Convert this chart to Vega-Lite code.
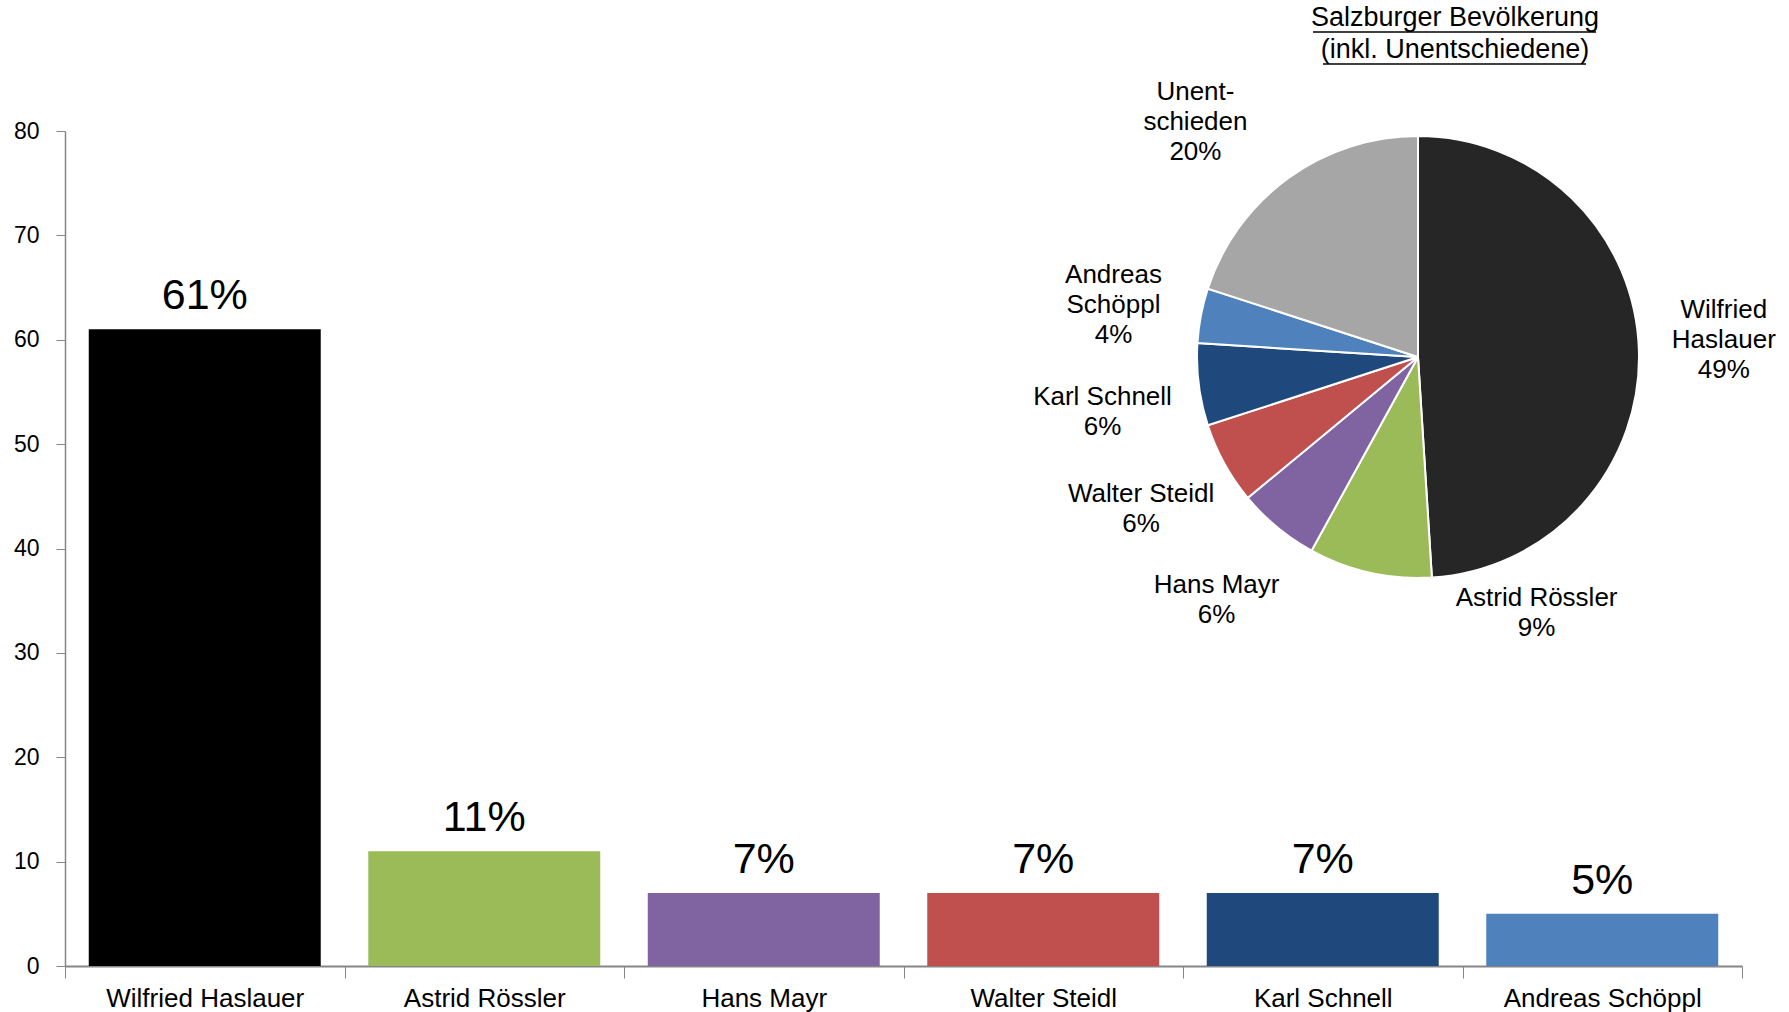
{
  "$schema": "https://vega.github.io/schema/vega-lite/v6.json",
  "autosize": "none",
  "width": 1677,
  "height": 835,
  "padding": {"left": 65, "top": 131, "right": 47, "bottom": 46},
  "background": "white",
  "config": {"view": {"stroke": null}, "font": "Liberation Sans"},
  "datasets": {
    "bars": [
      {"name": "Wilfried Haslauer", "value": 61, "lbl": "61%"},
      {"name": "Astrid Rössler", "value": 11, "lbl": "11%"},
      {"name": "Hans Mayr", "value": 7, "lbl": "7%"},
      {"name": "Walter Steidl", "value": 7, "lbl": "7%"},
      {"name": "Karl Schnell", "value": 7, "lbl": "7%"},
      {"name": "Andreas Schöppl", "value": 5, "lbl": "5%"}
    ],
    "pie": [
      {"name": "Wilfried Haslauer", "share": 49, "ord": 1, "label": "Wilfried\nHaslauer\n49%"},
      {"name": "Astrid Rössler", "share": 9, "ord": 2, "label": "Astrid Rössler\n9%"},
      {"name": "Hans Mayr", "share": 6, "ord": 3, "label": "Hans  Mayr\n6%"},
      {"name": "Walter Steidl", "share": 6, "ord": 4, "label": "Walter Steidl\n6%"},
      {"name": "Karl Schnell", "share": 6, "ord": 5, "label": "Karl Schnell\n6%"},
      {"name": "Andreas Schöppl", "share": 4, "ord": 6, "label": "Andreas\nSchöppl\n4%"},
      {"name": "Unentschieden", "share": 20, "ord": 7, "label": "Unent-\nschieden\n20%"}
    ],
    "title": [{"t": "Salzburger Bevölkerung\n(inkl. Unentschiedene)"}],
    "one": [{}]
  },
  "layer": [
    {
      "data": {"name": "bars"},
      "mark": {"type": "bar", "width": {"band": 0.83}},
      "encoding": {
        "x": {
          "field": "name", "type": "nominal", "sort": null,
          "scale": {"paddingInner": 0, "paddingOuter": 0},
          "axis": {
            "title": null, "labelAngle": 0, "labelFontSize": 26, "labelColor": "#000000", "labelLimit": 0,
            "labelFont": "Liberation Sans", "domainColor": "#868686", "domainWidth": 2,
            "tickColor": "#868686", "tickSize": 12, "tickBand": "extent", "labelPadding": 7
          }
        },
        "y": {
          "field": "value", "type": "quantitative",
          "scale": {"domain": [0, 80], "nice": false},
          "axis": {
            "title": null, "values": [0, 10, 20, 30, 40, 50, 60, 70, 80], "grid": false,
            "labelFontSize": 23, "labelColor": "#000000", "labelFont": "Liberation Sans",
            "domainColor": "#868686", "domainWidth": 1.5, "tickColor": "#868686", "tickSize": 9, "labelPadding": 17
          }
        },
        "color": {
          "field": "name", "type": "nominal", "legend": null,
          "scale": {
            "domain": ["Wilfried Haslauer", "Astrid Rössler", "Hans Mayr", "Walter Steidl", "Karl Schnell", "Andreas Schöppl"],
            "range": ["#000000", "#9BBB59", "#8064A2", "#C0504D", "#1F497D", "#4F81BD"]
          }
        }
      }
    },
    {
      "data": {"name": "bars"},
      "mark": {"type": "text", "fontSize": 43, "baseline": "bottom", "dy": -11, "color": "#000000", "font": "Liberation Sans"},
      "encoding": {
        "x": {"field": "name", "type": "nominal", "sort": null},
        "y": {"field": "value", "type": "quantitative"},
        "text": {"field": "lbl"}
      }
    },
    {
      "data": {"name": "pie"},
      "mark": {"type": "arc", "x": 1353, "y": 226, "radius": 221, "stroke": "#ffffff", "strokeWidth": 2},
      "encoding": {
        "theta": {"field": "share", "type": "quantitative", "stack": true},
        "order": {"field": "ord"},
        "color": {
          "field": "name", "type": "nominal", "legend": null,
          "scale": {
            "domain": ["Wilfried Haslauer", "Astrid Rössler", "Hans Mayr", "Walter Steidl", "Karl Schnell", "Andreas Schöppl", "Unentschieden"],
            "range": ["#262626", "#9BBB59", "#8064A2", "#C0504D", "#1F497D", "#4F81BD", "#A6A6A6"]
          }
        }
      }
    },
    {
      "data": {"name": "pie"},
      "mark": {"type": "text", "x": 1353, "y": 226, "radius": 306, "dy": -37, "fontSize": 26, "lineBreak": "\n", "lineHeight": 30, "align": "center", "baseline": "middle", "color": "#000000", "font": "Liberation Sans"},
      "encoding": {
        "theta": {"field": "share", "type": "quantitative", "stack": true},
        "order": {"field": "ord"},
        "text": {"condition": {"test": "datum.name === 'Wilfried Haslauer'", "field": "label"}, "value": ""}
      }
    },
    {
      "data": {"name": "pie"},
      "mark": {"type": "text", "x": 1353, "y": 226, "radius": 310, "dy": -24, "fontSize": 26, "lineBreak": "\n", "lineHeight": 30, "align": "center", "baseline": "middle", "color": "#000000", "font": "Liberation Sans"},
      "encoding": {
        "theta": {"field": "share", "type": "quantitative", "stack": true},
        "order": {"field": "ord"},
        "text": {"condition": {"test": "datum.name === 'Andreas Schöppl'", "field": "label"}, "value": ""}
      }
    },
    {
      "data": {"name": "pie"},
      "mark": {"type": "text", "x": 1353, "y": 226, "radius": 324, "thetaOffset": -0.129, "dy": -30, "fontSize": 26, "lineBreak": "\n", "lineHeight": 30, "align": "center", "baseline": "middle", "color": "#000000", "font": "Liberation Sans"},
      "encoding": {
        "theta": {"field": "share", "type": "quantitative", "stack": true},
        "order": {"field": "ord"},
        "text": {"condition": {"test": "datum.name === 'Unentschieden'", "field": "label"}, "value": ""}
      }
    },
    {
      "data": {"name": "pie"},
      "mark": {"type": "text", "x": 1353, "y": 226, "radius": 316, "dy": -15, "fontSize": 26, "lineBreak": "\n", "lineHeight": 30, "align": "center", "baseline": "middle", "color": "#000000", "font": "Liberation Sans"},
      "encoding": {
        "theta": {"field": "share", "type": "quantitative", "stack": true},
        "order": {"field": "ord"},
        "text": {"condition": {"test": "datum.name === 'Hans Mayr' || datum.name === 'Walter Steidl'", "field": "label"}, "value": ""}
      }
    },
    {
      "data": {"name": "pie"},
      "mark": {"type": "text", "x": 1353, "y": 226, "radius": 318, "dy": 0, "fontSize": 26, "lineBreak": "\n", "lineHeight": 30, "align": "center", "baseline": "middle", "color": "#000000", "font": "Liberation Sans"},
      "encoding": {
        "theta": {"field": "share", "type": "quantitative", "stack": true},
        "order": {"field": "ord"},
        "text": {"condition": {"test": "datum.name === 'Karl Schnell'", "field": "label"}, "value": ""}
      }
    },
    {
      "data": {"name": "pie"},
      "mark": {"type": "text", "x": 1353, "y": 226, "radius": 282, "thetaOffset": -0.654, "dy": -15, "fontSize": 26, "lineBreak": "\n", "lineHeight": 30, "align": "center", "baseline": "middle", "color": "#000000", "font": "Liberation Sans"},
      "encoding": {
        "theta": {"field": "share", "type": "quantitative", "stack": true},
        "order": {"field": "ord"},
        "text": {"condition": {"test": "datum.name === 'Astrid Rössler'", "field": "label"}, "value": ""}
      }
    },
    {
      "data": {"name": "title"},
      "mark": {"type": "text", "x": 1390, "y": -113, "fontSize": 27, "lineBreak": "\n", "lineHeight": 32, "align": "center", "baseline": "middle", "color": "#000000", "font": "Liberation Sans"},
      "encoding": {"text": {"field": "t"}}
    },
    {
      "data": {"name": "one"},
      "mark": {"type": "rule", "color": "#000000", "strokeWidth": 1.5},
      "encoding": {"x": {"value": 1248}, "x2": {"value": 1531}, "y": {"value": -99}}
    },
    {
      "data": {"name": "one"},
      "mark": {"type": "rule", "color": "#000000", "strokeWidth": 1.5},
      "encoding": {"x": {"value": 1258}, "x2": {"value": 1521}, "y": {"value": -67}}
    }
  ],
  "resolve": {"scale": {"color": "independent", "theta": "shared"}}
}
